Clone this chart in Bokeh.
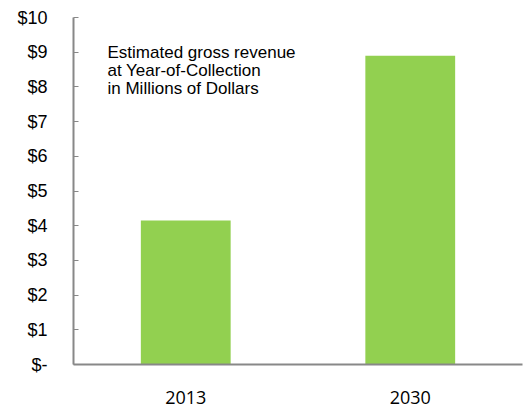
from bokeh.plotting import figure
from bokeh.models import ColumnDataSource, Range1d, FixedTicker, Label
from bokeh.embed import file_html
from bokeh.resources import INLINE

years = ["2013", "2030"]
revenue = [4.15, 8.9]
y_ticks = [0, 1, 2, 3, 4, 5, 6, 7, 8, 9, 10]
y_tick_labels = ["$-", "$1", "$2", "$3", "$4", "$5", "$6", "$7", "$8", "$9", "$10"]
note_lines = ["Estimated gross revenue", "at Year-of-Collection", "in Millions of  Dollars"]

src = ColumnDataSource(dict(year=years, rev=revenue))

p = figure(x_range=years, y_range=Range1d(0, 10), width=527, height=408,
           output_backend="svg", toolbar_location=None,
           min_border_left=73, min_border_right=5, min_border_top=17, min_border_bottom=44)
p.vbar(x="year", top="rev", width=0.4, source=src, color="#92D050", line_color=None)

p.xgrid.visible = False
p.ygrid.visible = False
p.outline_line_color = None
p.background_fill_color = "white"
p.border_fill_color = "white"

p.yaxis.ticker = FixedTicker(ticks=y_ticks)
p.yaxis.major_label_overrides = {t: l for t, l in zip(y_ticks, y_tick_labels)}
p.yaxis.minor_tick_line_color = None
p.yaxis.major_tick_in = 5
p.yaxis.major_tick_out = 0
p.yaxis.axis_line_color = "#888888"
p.yaxis.axis_line_width = 2
p.yaxis.major_tick_line_color = "#888888"
p.yaxis.major_label_text_font = "Liberation Sans"
p.yaxis.major_label_text_font_size = "18px"
p.yaxis.major_label_text_color = "black"
p.yaxis.major_label_standoff = 26

p.xaxis.axis_line_color = "#888888"
p.xaxis.axis_line_width = 2
p.xaxis.major_tick_line_color = None
p.xaxis.minor_tick_line_color = None
p.xaxis.major_label_text_font = "Open Sans"
p.xaxis.major_label_text_font_size = "18px"
p.xaxis.major_label_text_color = "black"
p.xaxis.major_label_standoff = 20

for i, line in enumerate(note_lines):
    p.add_layout(Label(x=34, y=312 - i * 18, x_units="screen", y_units="screen", text=line,
                       text_baseline="alphabetic",
                       text_font="Liberation Sans", text_font_size="17px", text_color="black"))

open("out.html", "w").write(file_html(p, INLINE))
